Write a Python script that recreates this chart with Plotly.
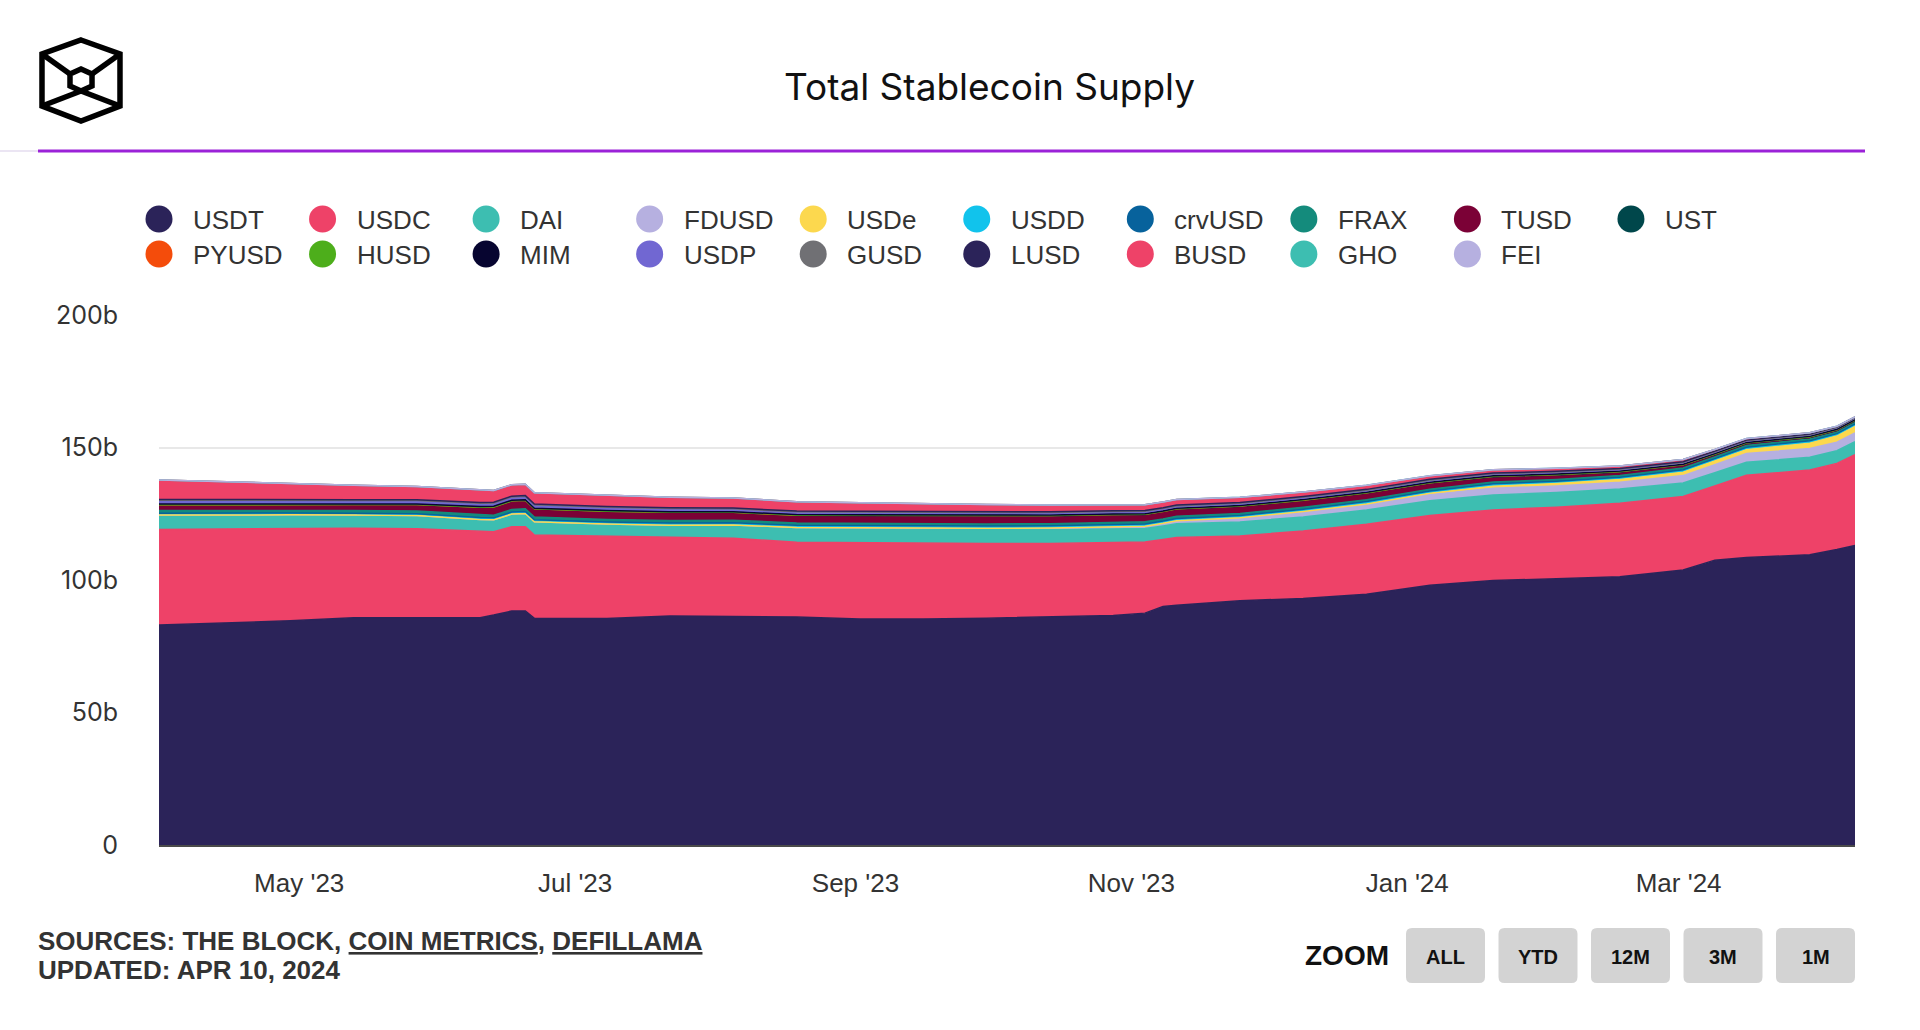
import plotly.graph_objects as go

# ---------------- data (billions USD) ----------------
dates = ["2023-03-31", "2023-04-15", "2023-04-29", "2023-05-13", "2023-05-27", "2023-06-10",
         "2023-06-13", "2023-06-17", "2023-06-20", "2023-06-22", "2023-07-08", "2023-07-22",
         "2023-08-05", "2023-08-19", "2023-09-02", "2023-09-16", "2023-09-30", "2023-10-14",
         "2023-10-28", "2023-11-04", "2023-11-08", "2023-11-11", "2023-11-25", "2023-12-09",
         "2023-12-23", "2024-01-06", "2024-01-20", "2024-02-03", "2024-02-17", "2024-03-02",
         "2024-03-09", "2024-03-16", "2024-03-30", "2024-04-05", "2024-04-09"]

USDT = [83.0, 83.9, 84.6, 85.8, 85.8, 85.8, 86.8, 88.3, 88.3, 85.5, 85.5, 86.4, 86.2, 86.0, 85.3, 85.3,
        85.6, 86.0, 86.6, 87.5, 90.0, 90.5, 92.2, 93.0, 94.6, 98.0, 99.8, 100.5, 101.2, 103.8, 107.5,
        108.5, 109.5, 111.5, 113.0]
USDC = [36.1, 35.4, 34.8, 33.7, 33.5, 32.4, 31.4, 31.8, 31.8, 31.5, 31.1, 29.9, 29.6, 28.2, 28.7, 28.5,
        28.2, 27.8, 27.6, 26.8, 25.3, 25.5, 24.4, 25.5, 26.4, 26.3, 26.6, 27.0, 27.8, 27.7, 28.0, 31.0,
        32.0, 32.5, 34.3]
DAI = [5.4, 5.3, 5.2, 5.0, 5.0, 4.6, 4.5, 4.8, 5.0, 5.0, 4.5, 4.4, 4.8, 5.3, 5.3, 5.3, 5.2, 5.2, 5.1,
       5.1, 5.1, 5.2, 5.3, 5.3, 5.4, 5.6, 5.7, 5.5, 5.3, 5.1, 5.0, 4.9, 4.8, 4.8, 4.9]
FDUSD = [0, 0, 0, 0, 0, 0, 0, 0, 0, 0, 0, 0, 0.2, 0.3, 0.35, 0.4, 0.5, 0.6, 0.8, 0.9, 1.0, 1.2, 1.6,
         2.0, 2.1, 2.4, 2.5, 2.5, 2.6, 2.8, 3.0, 3.3, 3.3, 3.2, 3.3]
USDe = [0, 0, 0, 0, 0, 0, 0, 0, 0, 0, 0, 0, 0, 0, 0, 0, 0, 0, 0, 0, 0, 0, 0, 0.05, 0.2, 0.4, 0.8, 0.9,
        1.0, 1.3, 1.4, 1.5, 2.0, 2.3, 2.5]
USDD = [0.72, 0.72, 0.72, 0.72, 0.72, 0.72, 0.72, 0.72, 0.72, 0.72, 0.72, 0.72, 0.72, 0.72, 0.72, 0.72,
        0.72, 0.72, 0.72, 0.72, 0.72, 0.72, 0.73, 0.73, 0.73, 0.73, 0.73, 0.73, 0.73, 0.73, 0.73, 0.73,
        0.73, 0.73, 0.73]
crvUSD = [0, 0, 0, 0, 0.01, 0.02, 0.03, 0.03, 0.03, 0.03, 0.04, 0.06, 0.08, 0.10, 0.10, 0.11, 0.12, 0.12,
          0.13, 0.13, 0.13, 0.13, 0.13, 0.14, 0.15, 0.16, 0.17, 0.17, 0.18, 0.18, 0.18, 0.19, 0.19, 0.19,
          0.19]
FRAX = [1.05, 1.04, 1.03, 1.02, 1.01, 1.0, 1.0, 1.0, 1.0, 1.0, 0.98, 0.96, 0.93, 0.9, 0.88, 0.85, 0.83,
        0.82, 0.8, 0.79, 0.79, 0.78, 0.75, 0.72, 0.7, 0.68, 0.67, 0.66, 0.65, 0.65, 0.65, 0.65, 0.65, 0.65,
        0.65]
TUSD = [2.0, 2.0, 2.0, 2.1, 2.3, 2.8, 3.0, 3.1, 3.1, 3.0, 3.0, 3.0, 2.9, 2.8, 2.9, 3.0, 3.0, 2.9, 2.8,
        2.7, 2.7, 2.7, 2.6, 2.5, 2.4, 2.2, 1.9, 1.6, 1.2, 1.0, 0.8, 0.7, 0.6, 0.55, 0.5]
UST = [0.12, 0.12, 0.12, 0.11, 0.11, 0.11, 0.11, 0.11, 0.11, 0.11, 0.11, 0.11, 0.1, 0.1, 0.1, 0.1, 0.1,
       0.1, 0.1, 0.1, 0.1, 0.1, 0.1, 0.1, 0.1, 0.1, 0.1, 0.1, 0.1, 0.1, 0.1, 0.1, 0.1, 0.1, 0.1]
PYUSD = [0, 0, 0, 0, 0, 0, 0, 0, 0, 0, 0, 0, 0, 0.03, 0.04, 0.04, 0.04, 0.04, 0.04, 0.04, 0.04, 0.05,
         0.08, 0.1, 0.13, 0.15, 0.15, 0.16, 0.16, 0.17, 0.18, 0.19, 0.2, 0.2, 0.2]
HUSD = [0.02, 0.02, 0.02, 0.02, 0.02, 0.02, 0.02, 0.02, 0.02, 0.02, 0.02, 0.02, 0.02, 0.02, 0.02, 0.02,
        0.02, 0.02, 0.02, 0.02, 0.02, 0.02, 0.02, 0.02, 0.02, 0.02, 0.02, 0.02, 0.02, 0.02, 0.02, 0.02,
        0.02, 0.02, 0.02]
MIM = [0.24, 0.24, 0.23, 0.23, 0.23, 0.22, 0.22, 0.22, 0.22, 0.22, 0.22, 0.21, 0.21, 0.2, 0.2, 0.2, 0.19,
       0.19, 0.19, 0.19, 0.18, 0.18, 0.18, 0.18, 0.17, 0.17, 0.17, 0.16, 0.16, 0.16, 0.15, 0.15, 0.15,
       0.15, 0.15]
USDP = [1.0, 0.98, 0.95, 0.92, 0.9, 0.88, 0.87, 0.86, 0.86, 0.85, 0.83, 0.8, 0.75, 0.7, 0.68, 0.66, 0.65,
        0.63, 0.62, 0.61, 0.6, 0.6, 0.6, 0.6, 0.58, 0.57, 0.56, 0.55, 0.53, 0.52, 0.5, 0.5, 0.5, 0.5, 0.5]
GUSD = [0.45, 0.44, 0.43, 0.42, 0.42, 0.41, 0.4, 0.4, 0.4, 0.4, 0.39, 0.37, 0.36, 0.35, 0.35, 0.34, 0.33,
        0.31, 0.3, 0.3, 0.29, 0.28, 0.26, 0.25, 0.22, 0.2, 0.2, 0.18, 0.16, 0.15, 0.13, 0.12, 0.11, 0.1,
        0.1]
LUSD = [0.28, 0.28, 0.28, 0.28, 0.29, 0.29, 0.29, 0.29, 0.29, 0.29, 0.29, 0.29, 0.29, 0.28, 0.28, 0.28,
        0.28, 0.28, 0.29, 0.29, 0.3, 0.3, 0.3, 0.3, 0.3, 0.3, 0.3, 0.29, 0.29, 0.28, 0.28, 0.28, 0.28,
        0.28, 0.28]
BUSD = [7.4, 6.6, 5.9, 5.4, 5.0, 4.6, 4.4, 4.3, 4.3, 4.3, 4.2, 4.0, 3.8, 3.5, 3.2, 2.9, 2.7, 2.5, 2.3,
        2.2, 2.15, 2.1, 1.9, 1.7, 1.5, 1.3, 1.2, 1.1, 0.9, 0.8, 0.6, 0.5, 0.4, 0.2, 0.1]
GHO = [0, 0, 0, 0, 0, 0, 0, 0, 0, 0, 0.01, 0.02, 0.02, 0.02, 0.03, 0.03, 0.03, 0.03, 0.03, 0.03, 0.03,
       0.03, 0.03, 0.03, 0.03, 0.03, 0.04, 0.04, 0.04, 0.04, 0.05, 0.05, 0.05, 0.05, 0.05]
FEI = [0, 0, 0, 0, 0, 0, 0, 0, 0, 0, 0, 0, 0, 0, 0, 0, 0, 0, 0, 0, 0, 0, 0, 0, 0, 0, 0, 0, 0, 0, 0, 0,
       0, 0, 0]

names = ["USDT", "USDC", "DAI", "FDUSD", "USDe", "USDD", "crvUSD", "FRAX", "TUSD", "UST",
         "PYUSD", "HUSD", "MIM", "USDP", "GUSD", "LUSD", "BUSD", "GHO", "FEI"]
values = [USDT, USDC, DAI, FDUSD, USDe, USDD, crvUSD, FRAX, TUSD, UST,
          PYUSD, HUSD, MIM, USDP, GUSD, LUSD, BUSD, GHO, FEI]
colors = ["#2b2359", "#ee4268", "#3dbeb1", "#b6b0e0", "#fcd84e", "#11c3ec", "#07629c", "#148b7c",
          "#7b0136", "#00474b", "#f44c0b", "#4dae1b", "#070530", "#7167d2", "#707074", "#2b2359",
          "#ee4268", "#3dbeb1", "#b6b0e0"]

y_tickvals = [0, 50, 100, 150, 200]
y_ticktext = ["0", "50b", "100b", "150b", "200b"]

# ---------------- geometry helpers ----------------
W, H = 1920, 1030
L, R, T, B = 159, 1855, 315, 845


def px(x):
    return (x - L) / (R - L)


def py(y):
    return (B - y) / (B - T)


fig = go.Figure()
for n, v, c in zip(names, values, colors):
    fig.add_trace(go.Scatter(
        x=dates, y=v, name=n, mode="lines", stackgroup="one",
        line=dict(color=c, width=1.5), fillcolor=c, showlegend=False,
        hovertemplate=n + ": %{y:.2f}b<extra></extra>"))

shapes = []
annotations = []


def path_from(points, close=True):
    s = "M " + " L ".join(f"{px(x):.5f},{py(y):.5f}" for x, y in points)
    return s + (" Z" if close else "")


# logo (cube)
outer = [(81, 40), (120, 54), (120, 106), (81, 121), (42, 106), (42, 54)]
inner = [(81, 69), (92, 74), (92, 86), (81, 91), (70, 86), (70, 74)]
logo_line = dict(color="#000000", width=5.5)
shapes.append(dict(type="path", xref="paper", yref="paper", path=path_from(outer), line=logo_line))
shapes.append(dict(type="path", xref="paper", yref="paper", path=path_from(inner), line=logo_line))
for a, b in [((42, 54), (70, 74)), ((120, 54), (92, 74)), ((42, 106), (81, 91)), ((120, 106), (81, 91))]:
    shapes.append(dict(type="path", xref="paper", yref="paper", path=path_from([a, b], close=False),
                       line=logo_line))

# header separator
shapes.append(dict(type="line", xref="paper", yref="paper", x0=px(0), x1=px(38), y0=py(151), y1=py(151),
                   line=dict(color="#e4dcef", width=1.5)))
shapes.append(dict(type="line", xref="paper", yref="paper", x0=px(38), x1=px(1865), y0=py(151), y1=py(151),
                   line=dict(color="#9b22d8", width=3)))

# title
annotations.append(dict(xref="paper", yref="paper", x=px(989), y=py(86), text="Total Stablecoin Supply",
                        showarrow=False, xanchor="center", yanchor="middle",
                        font=dict(family="Inter", size=37, color="#111111")))

# legend (manual, two rows)
col_x0, col_dx = 159, 163.55
row_y = [219, 254]
for i, (n, c) in enumerate(zip(names, colors)):
    row, col = divmod(i, 10)
    cx, cy = col_x0 + col * col_dx, row_y[row]
    r = 13.5
    shapes.append(dict(type="circle", xref="paper", yref="paper", x0=px(cx - r), x1=px(cx + r),
                       y0=py(cy + r), y1=py(cy - r), fillcolor=c, line=dict(width=0)))
    annotations.append(dict(xref="paper", yref="paper", x=px(cx + 32), y=py(cy + 1), text=n, showarrow=False,
                            xanchor="left", yanchor="middle",
                            font=dict(family="Liberation Sans, Arial", size=26, color="#333333")))

# sources
annotations.append(dict(xref="paper", yref="paper", x=px(36), y=py(941), xanchor="left", yanchor="middle",
                        showarrow=False,
                        text="<b>SOURCES: THE BLOCK, <u>COIN METRICS</u>, <u>DEFILLAMA</u></b>",
                        font=dict(family="Liberation Sans, Arial", size=26, color="#333333")))
annotations.append(dict(xref="paper", yref="paper", x=px(36), y=py(970), xanchor="left", yanchor="middle",
                        showarrow=False, text="<b>UPDATED: APR 10, 2024</b>",
                        font=dict(family="Liberation Sans, Arial", size=26, color="#333333")))

# zoom buttons
annotations.append(dict(xref="paper", yref="paper", x=px(1347), y=py(955), xanchor="center", yanchor="middle",
                        showarrow=False, text="<b>ZOOM</b>",
                        font=dict(family="Liberation Sans, Arial", size=28, color="#111111")))


def rrect(x0, y0, x1, y1, rad=6):
    pts = [
        f"M {px(x0 + rad):.5f},{py(y0):.5f}",
        f"L {px(x1 - rad):.5f},{py(y0):.5f}",
        f"Q {px(x1):.5f},{py(y0):.5f} {px(x1):.5f},{py(y0 + rad):.5f}",
        f"L {px(x1):.5f},{py(y1 - rad):.5f}",
        f"Q {px(x1):.5f},{py(y1):.5f} {px(x1 - rad):.5f},{py(y1):.5f}",
        f"L {px(x0 + rad):.5f},{py(y1):.5f}",
        f"Q {px(x0):.5f},{py(y1):.5f} {px(x0):.5f},{py(y1 - rad):.5f}",
        f"L {px(x0):.5f},{py(y0 + rad):.5f}",
        f"Q {px(x0):.5f},{py(y0):.5f} {px(x0 + rad):.5f},{py(y0):.5f} Z",
    ]
    return " ".join(pts)


buttons = ["ALL", "YTD", "12M", "3M", "1M"]
for i, lab in enumerate(buttons):
    x0 = 1406 + i * 92.5
    x1 = x0 + 79
    shapes.append(dict(type="path", xref="paper", yref="paper", path=rrect(x0, 928, x1, 983),
                       fillcolor="#d3d3d3", line=dict(width=0)))
    annotations.append(dict(xref="paper", yref="paper", x=px((x0 + x1) / 2), y=py(957), xanchor="center",
                            yanchor="middle", showarrow=False, text=f"<b>{lab}</b>",
                            font=dict(family="Liberation Sans, Arial", size=20, color="#111111")))

fig.update_layout(
    width=W, height=H,
    margin=dict(l=L, r=W - R, t=T, b=H - B, pad=0),
    paper_bgcolor="white", plot_bgcolor="white",
    showlegend=False,
    shapes=shapes, annotations=annotations,
    hovermode="x unified",
    xaxis=dict(type="date", range=[dates[0], dates[-1]], tick0="2023-05-01", dtick="M2",
               tickformat="%b '%y", showgrid=False, zeroline=False,
               showline=True, linecolor="#4a4a4a", linewidth=2,
               ticks="outside", ticklen=14, tickcolor="rgba(0,0,0,0)",
               tickfont=dict(family="Liberation Sans, Arial", size=26, color="#333333")),
    yaxis=dict(range=[0, 200], tickvals=y_tickvals, ticktext=y_ticktext, showgrid=True,
               gridcolor="#e8e8e8", gridwidth=2, zeroline=False, showline=False,
               ticks="outside", ticklen=35, tickcolor="rgba(0,0,0,0)",
               tickfont=dict(family="Inter", size=25, color="#333333")),
)

fig.write_html("out.html", config={"displayModeBar": False},
               post_script="document.body.style.margin='0';document.body.style.overflow='hidden';")
